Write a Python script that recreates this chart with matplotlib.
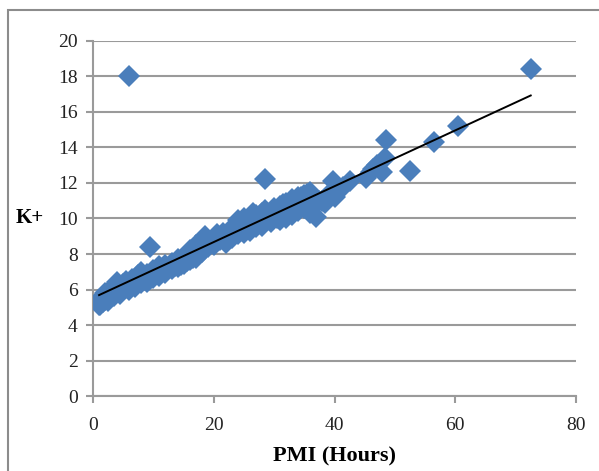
"""
Scatter of K+ against PMI (hours) with a linear trendline, Excel style.
"""
import numpy as np
import matplotlib.pyplot as plt
from matplotlib.patches import Rectangle

# --- data ---
pmi_hours = [
    1.0, 1.2, 1.4, 1.6, 2.0, 2.0, 2.5, 3.0, 3.0, 3.5, 4.0, 4.0, 4.5, 5.0, 5.0,
    5.5, 6.0, 6.5, 7.0, 7.5, 8.0, 8.0, 8.5, 9.0, 9.5, 10.0, 10.5, 11.0, 11.5,
    12.0, 12.5, 13.0, 13.5, 14.0, 14.5, 15.0, 15.5, 16.0, 16.5, 17.0, 17.5,
    18.0, 18.0, 18.5, 19.0, 19.5, 20.0, 20.5, 21.0, 21.5, 22.0, 22.5, 23.0,
    23.5, 24.0, 24.5, 25.0, 25.5, 26.0, 26.0, 26.5, 27.0, 27.0, 27.5, 28.0,
    28.0, 29.0, 29.5, 30.0, 30.5, 31.0, 31.0, 31.5, 32.0, 32.0, 32.5, 33.0,
    33.0, 33.5, 34.0, 34.0, 34.5, 35.0, 35.0, 35.5, 36.0, 36.0, 36.5, 37.0,
    37.5, 38.0, 38.5, 39.0, 39.7, 40.0, 40.3, 41.4, 42.5, 45.2, 46.0, 46.4,
    47.0, 47.8, 48.3, 48.5, 52.5, 56.5, 60.5, 72.5,
    # lower edge of the band at small PMI
    1.0, 1.5, 2.5, 3.5, 4.5, 6.0, 7.0, 8.0, 9.0, 10.0, 11.0, 12.0, 13.0,
    14.0, 15.0, 16.0, 17.0,
    # upper edge of the band at larger PMI
    24.0, 25.0, 26.5, 28.5, 30.0, 31.5, 33.0, 34.5, 35.5,
    # outliers
    6.0, 9.5, 28.5,
]
k_plus = [
    5.3, 5.1, 5.5, 5.3, 5.4, 5.8, 5.6, 6.0, 5.7, 6.2, 5.9, 6.4, 6.1, 6.3, 6.0,
    6.5, 6.2, 6.6, 6.4, 6.8, 6.5, 7.0, 6.7, 6.9, 6.6, 7.1, 6.9, 7.3, 7.0,
    7.4, 7.2, 7.5, 7.3, 7.7, 7.4, 7.8, 7.6, 8.2, 7.8, 8.5, 8.0,
    8.8, 8.1, 9.0, 8.4, 8.7, 8.5, 9.1, 8.8, 9.2, 8.6, 9.3, 8.9,
    9.5, 9.1, 9.8, 9.2, 9.6, 10.0, 9.3, 9.8, 10.2, 9.5, 10.0, 10.3,
    9.6, 10.1, 9.8, 10.4, 10.0, 10.7, 9.9, 10.4, 10.9, 10.0, 10.6, 11.0,
    10.2, 10.8, 11.2, 10.4, 10.9, 11.3, 10.6, 11.0, 11.5, 10.3, 10.8, 10.1,
    11.0, 11.0, 10.9, 11.3, 12.1, 11.2, 11.5, 11.8, 12.1, 12.3, 12.6, 12.8,
    13.0, 12.6, 13.4, 14.4, 12.7, 14.3, 15.2, 18.4,
    5.15, 5.35, 5.35, 5.65, 5.75, 5.95, 6.15, 6.35, 6.45, 6.65, 6.75, 6.95,
    7.15, 7.25, 7.45, 7.65, 7.75,
    9.9, 10.0, 10.3, 10.5, 10.6, 10.8, 11.1, 11.2, 11.4,
    18.0, 8.4, 12.2,
]

x_ticks = [0, 20, 40, 60, 80]
y_ticks = [0, 2, 4, 6, 8, 10, 12, 14, 16, 18, 20]

x = np.array(pmi_hours)
y = np.array(k_plus)

plt.rcParams["font.family"] = ["Liberation Serif", "DejaVu Serif"]

fig = plt.figure(figsize=(5.99, 4.71), dpi=100)
ax = fig.add_axes([0.1553, 0.1592, 0.8063, 0.7538])

# outer chart frame (only left/top visible in the crop)
fig.patches.append(Rectangle((8 / 599, -0.1), 1.2, 1.1 - 10 / 471,
                             transform=fig.transFigure, fill=False,
                             edgecolor="#8c8c8c", linewidth=1.5))

grey = "#9a9a9a"
ax.set_axisbelow(True)
ax.yaxis.grid(True, color=grey, linewidth=1.5)

ax.plot(x, y, linestyle="none", marker="D", markersize=11,
        color="#4a7ebb", markeredgewidth=0, zorder=3)

# linear trendline
slope, intercept = np.polyfit(x, y, 1)
xs = np.array([x.min(), x.max()])
ax.plot(xs, slope * xs + intercept, color="black", linewidth=1.4, zorder=4)

ax.set_xlim(0, 80)
ax.set_ylim(0, 20)
ax.set_xticks(x_ticks)
ax.set_yticks(y_ticks)

for side in ["top", "right"]:
    ax.spines[side].set_visible(False)
for side in ["left", "bottom"]:
    ax.spines[side].set_color(grey)
    ax.spines[side].set_linewidth(1.5)

ax.tick_params(axis="both", colors=grey, width=1.5, length=5,
               labelsize=14, labelcolor="#222222")
ax.tick_params(axis="x", pad=10)
ax.tick_params(axis="y", pad=6)

ax.set_xlabel("PMI (Hours)", fontsize=16, fontweight="bold", labelpad=9)
ax.set_ylabel("K+", fontsize=15, fontweight="bold", rotation=0,
              labelpad=20, va="center")

fig.savefig("out.png", dpi=100)
